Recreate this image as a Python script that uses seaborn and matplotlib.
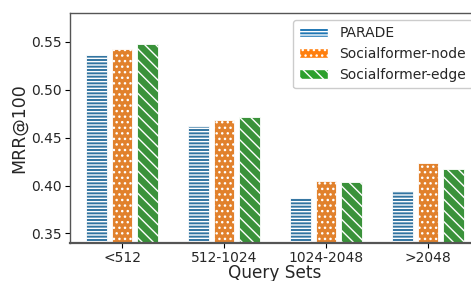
import matplotlib
matplotlib.use("Agg")
import matplotlib.pyplot as plt
import seaborn as sns
import pandas as pd
from matplotlib.patches import Patch

categories = ["<512", "512-1024", "1024-2048", ">2048"]
methods = ["PARADE", "Socialformer-node", "Socialformer-edge"]
parade = [0.536, 0.462, 0.387, 0.394]
sf_node = [0.542, 0.468, 0.405, 0.423]
sf_edge = [0.548, 0.471, 0.404, 0.417]

colors = ["#1f77b4", "#ff7f0e", "#2ca02c"]
hatches = ["-----", "...", "\\\\\\"]

rows = []
for m, vals in zip(methods, [parade, sf_node, sf_edge]):
    for c, v in zip(categories, vals):
        rows.append({"Query Sets": c, "Method": m, "MRR@100": v})
df = pd.DataFrame(rows)

sns.set_style("ticks")
plt.rcParams["font.family"] = ["DejaVu Sans"]
plt.rcParams["hatch.linewidth"] = 1.0

fig = plt.figure(figsize=(4.71, 2.81), dpi=100)
ax = fig.add_axes([70/471, 38/281, 409/471, 230/281])

sns.barplot(data=df, x="Query Sets", y="MRR@100", hue="Method",
            hue_order=methods, palette=colors, width=0.75, gap=0.2,
            edgecolor="white", linewidth=0.6, ax=ax, legend=False)

for cont, h in zip(ax.containers, hatches):
    for p in cont.patches:
        p.set_hatch(h)
        p.set_edgecolor("white")

ax.set_ylim(0.34, 0.58)
ax.set_xlim(-0.51, 3.5)
ax.set_yticks([0.35, 0.40, 0.45, 0.50, 0.55])
ax.set_yticklabels(["0.35", "0.40", "0.45", "0.50", "0.55"])
ax.tick_params(labelsize=10, length=3.5, pad=2.5, color="black")
ax.set_xlabel("Query Sets", fontsize=12.2, labelpad=-1)
ax.set_ylabel("MRR@100", fontsize=12.5, labelpad=2)
for s in ax.spines.values():
    s.set_visible(True)
    s.set_color("#555555")
    s.set_linewidth(1.0)
ax.spines["bottom"].set_linewidth(1.6)

handles = [Patch(facecolor=c, edgecolor="white", hatch=h, label=m)
           for c, h, m in zip(colors, hatches, methods)]
ax.legend(handles=handles, loc="upper left", bbox_to_anchor=(0.545, 0.97),
          borderaxespad=0, fontsize=10, handlelength=2.1, handletextpad=0.8,
          labelspacing=0.5, borderpad=0.45, framealpha=1, edgecolor="#cccccc")

fig.savefig("out.png", dpi=100)
